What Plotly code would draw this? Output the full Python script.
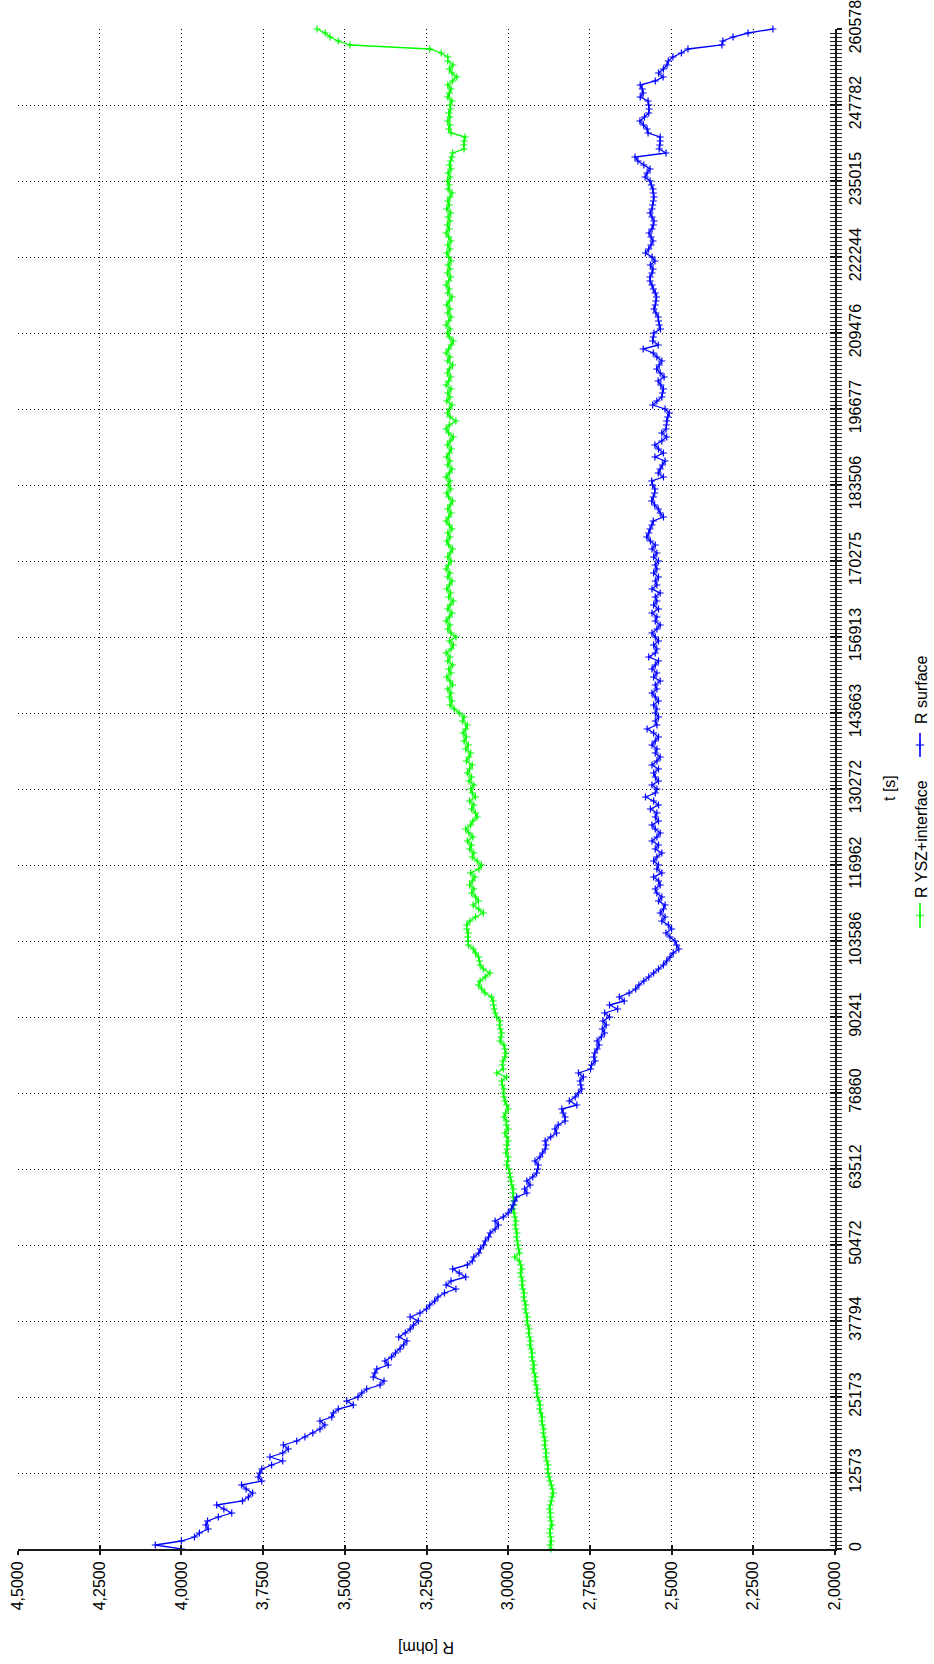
import plotly.graph_objects as go

# ---------------- data ----------------
t_tick_labels = ["0", "12573", "25173", "37794", "50472", "63512", "76860", "90241",
                 "103586", "116962", "130272", "143663", "156913", "170275", "183506",
                 "196677", "209476", "222244", "235015", "247782", "260578"]

r_tick_values = [4.5, 4.25, 4.0, 3.75, 3.5, 3.25, 3.0, 2.75, 2.5, 2.25, 2.0]
r_tick_labels = ["4,5000", "4,2500", "4,0000", "3,7500", "3,5000", "3,2500",
                 "3,0000", "2,7500", "2,5000", "2,2500", "2,0000"]

series_names = ["R YSZ+interface", "R surface"]

# R surface [ohm], one value per sample
r_surface = [
    4.000, 4.080, 4.000, 3.960, 3.945, 3.918, 3.925, 3.920, 3.887, 3.846, 3.870, 3.892, 3.813, 3.795, 3.782, 3.802, 3.816, 3.754, 3.765,
    3.760, 3.754, 3.724, 3.690, 3.729, 3.690, 3.673, 3.688, 3.647, 3.622, 3.598, 3.576, 3.561, 3.576, 3.540, 3.535, 3.520, 3.474, 3.494,
    3.460, 3.448, 3.433, 3.392, 3.380, 3.413, 3.408, 3.402, 3.367, 3.377, 3.357, 3.345, 3.331, 3.320, 3.310, 3.335, 3.315, 3.300, 3.290,
    3.275, 3.300, 3.270, 3.250, 3.240, 3.225, 3.215, 3.195, 3.160, 3.190, 3.175, 3.130, 3.150, 3.170, 3.125, 3.110, 3.105, 3.090, 3.085,
    3.075, 3.070, 3.060, 3.055, 3.040, 3.030, 3.040, 3.015, 3.000, 2.990, 2.985, 2.980, 2.974, 2.943, 2.950, 2.933, 2.943, 2.925, 2.913,
    2.910, 2.908, 2.918, 2.903, 2.895, 2.887, 2.884, 2.887, 2.870, 2.852, 2.857, 2.847, 2.826, 2.826, 2.832, 2.836, 2.790, 2.813, 2.795,
    2.785, 2.775, 2.778, 2.780, 2.770, 2.785, 2.748, 2.745, 2.734, 2.738, 2.735, 2.728, 2.722, 2.728, 2.715, 2.705, 2.712, 2.700, 2.710,
    2.690, 2.705, 2.665, 2.690, 2.645, 2.660, 2.630, 2.610, 2.600, 2.585, 2.570, 2.555, 2.540, 2.525, 2.515, 2.505, 2.495, 2.478, 2.485,
    2.490, 2.505, 2.517, 2.500, 2.510, 2.530, 2.520, 2.535, 2.525, 2.520, 2.540, 2.530, 2.545, 2.550, 2.535, 2.540, 2.555, 2.530, 2.545,
    2.540, 2.555, 2.545, 2.530, 2.550, 2.540, 2.560, 2.545, 2.535, 2.550, 2.560, 2.540, 2.550, 2.545, 2.565, 2.540, 2.555, 2.580, 2.550,
    2.545, 2.560, 2.540, 2.550, 2.555, 2.540, 2.560, 2.545, 2.535, 2.550, 2.545, 2.560, 2.550, 2.540, 2.555, 2.575, 2.545, 2.550, 2.540,
    2.550, 2.545, 2.555, 2.540, 2.550, 2.560, 2.545, 2.550, 2.535, 2.555, 2.545, 2.560, 2.550, 2.540, 2.570, 2.550, 2.545, 2.555, 2.540,
    2.550, 2.560, 2.545, 2.535, 2.550, 2.545, 2.560, 2.540, 2.555, 2.545, 2.550, 2.535, 2.560, 2.545, 2.550, 2.540, 2.555, 2.545, 2.550,
    2.540, 2.555, 2.545, 2.560, 2.550, 2.565, 2.576, 2.570, 2.566, 2.560, 2.556, 2.525, 2.535, 2.541, 2.552, 2.561, 2.556, 2.552, 2.551,
    2.558, 2.561, 2.525, 2.541, 2.535, 2.528, 2.520, 2.551, 2.525, 2.540, 2.551, 2.530, 2.515, 2.530, 2.517, 2.516, 2.515, 2.512, 2.507,
    2.520, 2.558, 2.545, 2.530, 2.528, 2.525, 2.533, 2.541, 2.523, 2.535, 2.546, 2.538, 2.530, 2.545, 2.556, 2.587, 2.541, 2.558, 2.556,
    2.554, 2.534, 2.538, 2.540, 2.541, 2.548, 2.554, 2.550, 2.548, 2.546, 2.550, 2.556, 2.560, 2.566, 2.566, 2.560, 2.557, 2.565, 2.551,
    2.560, 2.580, 2.570, 2.563, 2.557, 2.563, 2.569, 2.560, 2.556, 2.554, 2.560, 2.566, 2.560, 2.558, 2.556, 2.554, 2.556, 2.557, 2.562,
    2.566, 2.581, 2.575, 2.566, 2.585, 2.603, 2.612, 2.517, 2.538, 2.536, 2.535, 2.535, 2.572, 2.575, 2.586, 2.597, 2.583, 2.570, 2.569,
    2.570, 2.572, 2.596, 2.587, 2.590, 2.596, 2.550, 2.526, 2.540, 2.525, 2.514, 2.510, 2.496, 2.470, 2.450, 2.346, 2.343, 2.312, 2.266,
    2.190,
]

# R YSZ+interface [ohm], one value per sample
r_ysz_interface = [
    2.869, 2.872, 2.868, 2.870, 2.873, 2.871, 2.866, 2.869, 2.872, 2.870, 2.874, 2.871, 2.868, 2.866, 2.862, 2.865, 2.868, 2.872, 2.875,
    2.878, 2.880, 2.878, 2.882, 2.885, 2.883, 2.886, 2.889, 2.887, 2.890, 2.893, 2.891, 2.895, 2.898, 2.896, 2.900, 2.904, 2.902, 2.906,
    2.910, 2.913, 2.911, 2.915, 2.918, 2.916, 2.920, 2.924, 2.921, 2.925, 2.928, 2.926, 2.930, 2.934, 2.931, 2.935, 2.938, 2.936, 2.940,
    2.943, 2.941, 2.945, 2.948, 2.946, 2.950, 2.953, 2.951, 2.955, 2.958, 2.956, 2.960, 2.963, 2.958, 2.962, 2.966, 2.980, 2.965, 2.968,
    2.970, 2.972, 2.975, 2.973, 2.977, 2.979, 2.976, 2.980, 2.982, 2.985, 2.983, 2.984, 2.984, 2.986, 2.984, 2.989, 2.991, 2.994, 2.996,
    2.998, 3.005, 3.002, 3.000, 3.007, 3.003, 3.005, 3.000, 3.004, 3.010, 3.000, 3.006, 3.005, 3.013, 3.008, 3.000, 3.005, 3.010, 3.013,
    3.015, 3.013, 3.018, 3.020, 3.005, 3.035, 3.015, 3.018, 3.016, 3.010, 3.007, 3.010, 3.013, 3.025, 3.022, 3.020, 3.024, 3.027, 3.025,
    3.035, 3.040, 3.043, 3.045, 3.046, 3.051, 3.071, 3.081, 3.091, 3.086, 3.070, 3.056, 3.076, 3.086, 3.088, 3.091, 3.100, 3.107, 3.122,
    3.122, 3.124, 3.122, 3.127, 3.127, 3.117, 3.100, 3.076, 3.090, 3.107, 3.091, 3.100, 3.112, 3.105, 3.118, 3.110, 3.102, 3.115, 3.090,
    3.082, 3.095, 3.110, 3.105, 3.118, 3.112, 3.125, 3.108, 3.120, 3.130, 3.115, 3.108, 3.095, 3.100, 3.112, 3.105, 3.118, 3.100, 3.110,
    3.115, 3.105, 3.120, 3.112, 3.125, 3.118, 3.110, 3.128, 3.120, 3.115, 3.130, 3.122, 3.135, 3.128, 3.138, 3.130, 3.125, 3.140, 3.135,
    3.150, 3.165, 3.178, 3.172, 3.180, 3.175, 3.185, 3.170, 3.178, 3.188, 3.175, 3.182, 3.170, 3.185, 3.178, 3.190, 3.175, 3.168, 3.180,
    3.160, 3.175, 3.185, 3.178, 3.190, 3.180, 3.172, 3.185, 3.178, 3.168, 3.182, 3.176, 3.188, 3.180, 3.172, 3.185, 3.178, 3.190, 3.183,
    3.175, 3.185, 3.178, 3.170, 3.182, 3.188, 3.178, 3.185, 3.172, 3.180, 3.190, 3.182, 3.175, 3.185, 3.178, 3.170, 3.182, 3.188, 3.176,
    3.184, 3.178, 3.190, 3.180, 3.172, 3.185, 3.178, 3.188, 3.180, 3.174, 3.186, 3.178, 3.168, 3.182, 3.190, 3.180, 3.160, 3.178, 3.186,
    3.180, 3.172, 3.188, 3.178, 3.185, 3.175, 3.190, 3.182, 3.176, 3.186, 3.180, 3.170, 3.185, 3.178, 3.190, 3.182, 3.175, 3.168, 3.180,
    3.186, 3.178, 3.190, 3.182, 3.175, 3.185, 3.178, 3.188, 3.180, 3.172, 3.185, 3.180, 3.190, 3.182, 3.176, 3.186, 3.178, 3.184, 3.175,
    3.182, 3.188, 3.178, 3.185, 3.175, 3.182, 3.190, 3.180, 3.186, 3.178, 3.184, 3.176, 3.188, 3.180, 3.185, 3.178, 3.172, 3.184, 3.180,
    3.186, 3.178, 3.184, 3.175, 3.180, 3.176, 3.172, 3.170, 3.135, 3.136, 3.135, 3.132, 3.175, 3.182, 3.178, 3.185, 3.178, 3.182, 3.176,
    3.178, 3.172, 3.185, 3.180, 3.175, 3.185, 3.170, 3.157, 3.172, 3.180, 3.169, 3.185, 3.185, 3.205, 3.240, 3.484, 3.520, 3.545, 3.560,
    3.585,
]

# ---------------- figure ----------------
GREEN = "#00FF00"
BLUE = "#0000FF"
COLORS = [GREEN, BLUE]
FONT = "Liberation Sans, Arial, sans-serif"
FS = 16

W, H = 934, 1664
ML, MT, MB = 18, 29, 115
PLOT_RIGHT = 835                      # pixel x of the time axis
PAPER_W = W - ML                      # right margin 0 -> paper spans to page edge
PAPER_H = H - MT - MB
XDOM = [0, (PLOT_RIGHT - ML) / PAPER_W]

n = len(r_surface)
sample_idx = list(range(n))
step = (n - 1) // (len(t_tick_labels) - 1)
t_tick_pos = [k * step for k in range(len(t_tick_labels))]

fig = go.Figure()
for name, vals, col in [(series_names[0], r_ysz_interface, GREEN),
                        (series_names[1], r_surface, BLUE)]:
    fig.add_trace(go.Scatter(
        x=vals, y=sample_idx, name=name, mode="lines+markers",
        line=dict(color=col, width=1.3),
        marker=dict(symbol="cross-thin", size=5, color=col,
                    line=dict(color=col, width=1.2)),
        cliponaxis=False, showlegend=False))

# empty trace so that the overlay axes (inside halves of the ticks) are drawn
fig.add_trace(go.Scatter(x=[None], y=[None], xaxis="x2", yaxis="y2",
                         showlegend=False, hoverinfo="skip"))

# legend keys: short vertical line with a "+" in the middle (pixel-space helper subplot)
legend_key_y = [(903, 928), (733, 757)]   # pixel extents of the two keys
for (y0, y1), col in zip(legend_key_y, COLORS):
    fig.add_trace(go.Scatter(
        x=[920, 920, 920], y=[y0, (y0 + y1) / 2, y1], mode="lines+markers",
        xaxis="x3", yaxis="y3",
        line=dict(color=col, width=1.6),
        marker=dict(symbol="cross-thin", size=[0, 6, 0], color=col,
                    line=dict(color=col, width=1.4)),
        showlegend=False, hoverinfo="skip", cliponaxis=False))

GRIDDASH = "1px,3px"
GRIDCOL = "#000000"
AXCOL = "#1a1a1a"
fig.update_layout(
    width=W, height=H,
    margin=dict(l=ML, r=0, t=MT, b=MB, autoexpand=False),
    paper_bgcolor="white", plot_bgcolor="rgba(0,0,0,0)",
    font=dict(family=FONT, size=FS, color="black"),
    xaxis=dict(
        domain=XDOM, anchor="y",
        range=[4.5, 2.0], tickmode="array", tickvals=r_tick_values,
        ticktext=r_tick_labels, tickangle=-90, automargin=False,
        ticklabeloverflow="allow",
        showgrid=True, gridcolor=GRIDCOL, gridwidth=1, griddash=GRIDDASH,
        showline=True, linecolor=AXCOL, linewidth=2,
        ticks="outside", ticklen=4, tickcolor=AXCOL, tickwidth=1.5,
        zeroline=False, tickfont=dict(size=FS)),
    yaxis=dict(
        anchor="x",
        range=[0, n - 1], side="right", tickmode="array", tickvals=t_tick_pos,
        ticktext=t_tick_labels, tickangle=-90, automargin=False,
        ticklabeloverflow="allow",
        showgrid=True, gridcolor=GRIDCOL, gridwidth=1, griddash=GRIDDASH,
        showline=True, linecolor=AXCOL, linewidth=2,
        ticks="outside", ticklen=5, tickcolor=AXCOL, tickwidth=1.5,
        minor=dict(tickmode="linear", tick0=0, dtick=1, ticks="outside",
                   ticklen=5, tickcolor=AXCOL, tickwidth=1, showgrid=False),
        zeroline=False, tickfont=dict(size=FS)),
    xaxis2=dict(
        domain=XDOM, overlaying="x", anchor="y2", side="bottom", range=[4.5, 2.0],
        tickmode="array", tickvals=r_tick_values, showticklabels=False,
        showgrid=False, showline=False, zeroline=False, automargin=False,
        ticks="inside", ticklen=4, tickcolor=AXCOL, tickwidth=1.5),
    yaxis2=dict(
        overlaying="y", anchor="x2", side="right", range=[0, n - 1],
        tickmode="array", tickvals=t_tick_pos, showticklabels=False,
        showgrid=False, showline=False, zeroline=False, automargin=False,
        ticks="inside", ticklen=5, tickcolor=AXCOL, tickwidth=1.5,
        minor=dict(tickmode="linear", tick0=0, dtick=1, ticks="inside",
                   ticklen=5, tickcolor=AXCOL, tickwidth=1)),
    # pixel-space helper axes for the hand-drawn legend keys
    xaxis3=dict(domain=[(905 - ML) / PAPER_W, (933 - ML) / PAPER_W], anchor="y3",
                range=[905, 933], visible=False, fixedrange=True),
    yaxis3=dict(domain=[0, 1], anchor="x3", range=[MT + PAPER_H, MT],
                visible=False, fixedrange=True),
)


def px_x(px):
    return (px - ML) / PAPER_W


def px_y(py):
    return (MT + PAPER_H - py) / PAPER_H


annotations = [
    dict(text="R [ohm]", x=px_x((ML + PLOT_RIGHT) / 2), y=px_y(1647), textangle=180),
    dict(text="t [s]", x=px_x(889), y=px_y(788), textangle=-90),
    dict(text=series_names[0], x=px_x(921), y=px_y(839), textangle=-90),
    dict(text=series_names[1], x=px_x(921), y=px_y(690), textangle=-90),
]
for a in annotations:
    a.update(xref="paper", yref="paper", showarrow=False,
             xanchor="center", yanchor="middle",
             font=dict(family=FONT, size=FS, color="black"))
fig.update_layout(annotations=annotations)

# the page's default 8px body margin would shift the figure; remove it
fig.write_html("out.html",
               config={"displayModeBar": False},
               post_script="document.body.style.margin='0px';"
                           "document.body.style.overflow='hidden';")
